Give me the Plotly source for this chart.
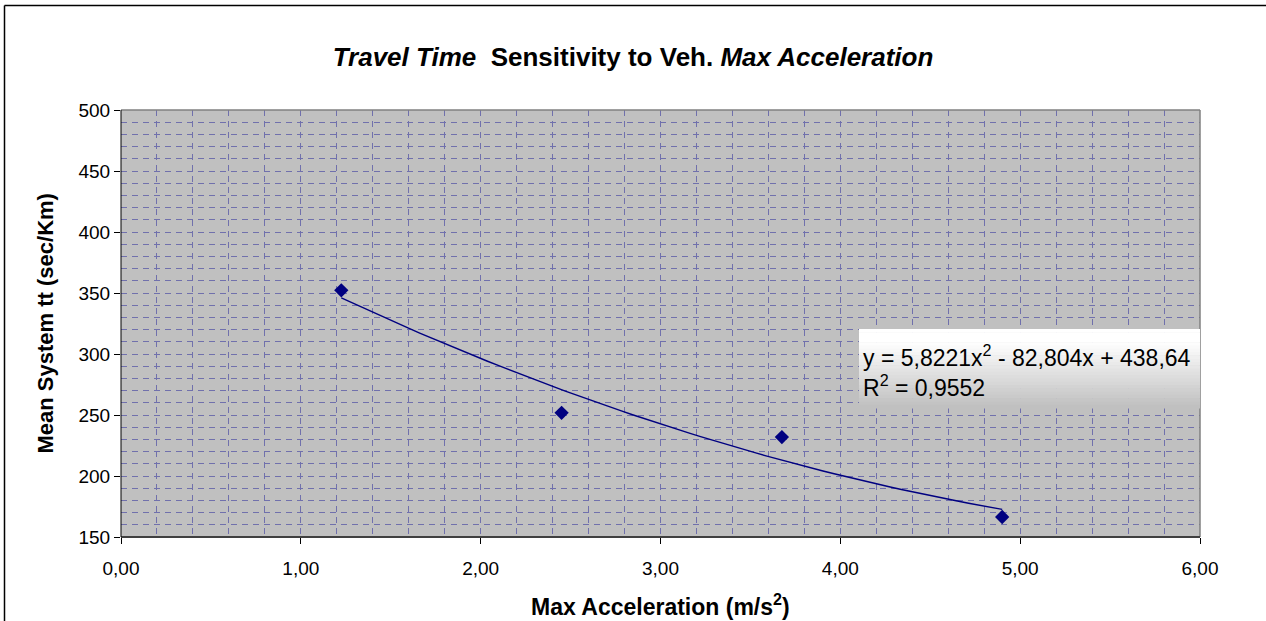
import plotly.graph_objects as go

# Measured data: vehicle max acceleration vs. mean system travel time
accel = [1.225, 2.45, 3.675, 4.9]            # m/s^2
mean_tt = [352.2, 251.8, 231.9, 166.4]       # sec/Km

# Polynomial (order 2) trendline coefficients, as reported in the label
trend_coef = [5.8221, -82.804, 438.64]        # a, b, c  -> y = a x^2 + b x + c
trend_r2 = 0.9552

x_ticks = [0, 1, 2, 3, 4, 5, 6]
x_tick_text = ["0,00", "1,00", "2,00", "3,00", "4,00", "5,00", "6,00"]
y_ticks = [150, 200, 250, 300, 350, 400, 450, 500]

W, H = 1266, 621
L, R, T, B = 121, 66, 110, 84
pw, ph = W - L - R, H - T - B

def px_x(p):
    return (p - L) / pw

def px_y(p):
    return (H - B - p) / ph

FONT = "Arial, 'Liberation Sans', sans-serif"
NAVY = "#000080"
GRID = "#7070AC"

# trendline sampled across the data range
n = 60
x0, x1 = min(accel), max(accel)
tx = [x0 + (x1 - x0) * i / (n - 1) for i in range(n)]
a, b, c = trend_coef
ty = [a * v * v + b * v + c for v in tx]

fig = go.Figure()
fig.add_trace(go.Scatter(x=tx, y=ty, mode="lines",
                         line=dict(color=NAVY, width=1.4),
                         hoverinfo="skip", showlegend=False))
fig.add_trace(go.Scatter(x=accel, y=mean_tt, mode="markers",
                         marker=dict(symbol="diamond", size=11, color=NAVY),
                         showlegend=False))

axis_common = dict(
    showline=False, zeroline=False,
    ticks="outside", ticklen=6, tickwidth=1, tickcolor="#000000",
    tickfont=dict(family=FONT, size=19, color="#000000"),
    showgrid=True, gridcolor=GRID, gridwidth=1, griddash="6px,5px",
)

fig.update_xaxes(range=[0, 6], tickvals=x_ticks, ticktext=x_tick_text,
                 ticklabelstandoff=8,
                 minor=dict(dtick=0.2, showgrid=True, gridcolor=GRID,
                            gridwidth=1, griddash="6px,5px", ticks=""),
                 **axis_common)
fig.update_yaxes(range=[150, 500], tickvals=y_ticks,
                 minor=dict(dtick=10, showgrid=True, gridcolor=GRID,
                            gridwidth=1, griddash="6px,5px", ticks=""),
                 **axis_common)

shapes = []
# outer chart frame (left and top edges)
shapes.append(dict(type="line", xref="paper", yref="paper",
                   x0=px_x(4.5), x1=px_x(4.5), y0=px_y(640), y1=px_y(5.5),
                   line=dict(color="#000000", width=1.5), layer="below"))
shapes.append(dict(type="line", xref="paper", yref="paper",
                   x0=px_x(4.5), x1=px_x(1290), y0=px_y(5.5), y1=px_y(5.5),
                   line=dict(color="#000000", width=1.5), layer="below"))
# plot area frame: grey top/right, dark bottom, black left
shapes.append(dict(type="line", xref="paper", yref="paper", x0=0, x1=1, y0=1, y1=1,
                   line=dict(color="#808080", width=1.5), layer="above"))
shapes.append(dict(type="line", xref="paper", yref="paper", x0=1, x1=1, y0=0, y1=1,
                   line=dict(color="#808080", width=1.5), layer="above"))
shapes.append(dict(type="line", xref="paper", yref="paper", x0=0, x1=1, y0=0, y1=0,
                   line=dict(color="#404040", width=2), layer="above"))
shapes.append(dict(type="line", xref="paper", yref="paper", x0=0, x1=0, y0=0, y1=1,
                   line=dict(color="#000000", width=1), layer="above"))

# trendline label box with a white-to-grey vertical gradient
bx0, bx1 = px_x(859), 1.0
by_top, by_bot = 329, 408
steps = 24
for i in range(steps):
    t = i / (steps - 1)
    g = int(round(255 - (255 - 192) * max(0.0, (t - 0.15) / 0.85)))
    ya = by_top + (by_bot - by_top) * i / steps
    yb = by_top + (by_bot - by_top) * (i + 1) / steps
    shapes.append(dict(type="rect", xref="paper", yref="paper",
                       x0=bx0, x1=bx1, y0=px_y(yb + 0.5), y1=px_y(ya),
                       fillcolor=f"rgb({g},{g},{g})", line=dict(width=0),
                       layer="above"))

annotations = [
    dict(xref="paper", yref="paper", x=px_x(861), y=px_y(371),
         xanchor="left", yanchor="middle", align="left", showarrow=False,
         text=(f"y = 5,8221x<sup>2</sup> - 82,804x + 438,64<br>"
               f"R<sup>2</sup> = {str(trend_r2).replace('.', ',')}"),
         font=dict(family=FONT, size=23, color="#000000")),
    dict(xref="paper", yref="paper", x=0.5, y=px_y(605),
         xanchor="center", yanchor="middle", showarrow=False,
         text="<b>Max Acceleration (m/s<sup>2</sup>)</b>",
         font=dict(family=FONT, size=23, color="#000000")),
    dict(xref="paper", yref="paper", x=px_x(45), y=0.5,
         xanchor="center", yanchor="middle", showarrow=False, textangle=-90,
         text="<b>Mean System tt (sec/Km)</b>",
         font=dict(family=FONT, size=22, color="#000000")),
]

fig.update_layout(
    width=W, height=H,
    margin=dict(l=L, r=R, t=T, b=B),
    paper_bgcolor="#FFFFFF", plot_bgcolor="#C0C0C0",
    title=dict(text="<b><i>Travel Time</i>  Sensitivity to Veh. <i>Max Acceleration</i></b>",
               x=0.5, xref="container", xanchor="center",
               y=1 - 57 / H, yref="container", yanchor="middle",
               font=dict(family=FONT, size=26, color="#000000")),
    shapes=shapes, annotations=annotations,
    showlegend=False,
)

fig.write_html("out.html")
